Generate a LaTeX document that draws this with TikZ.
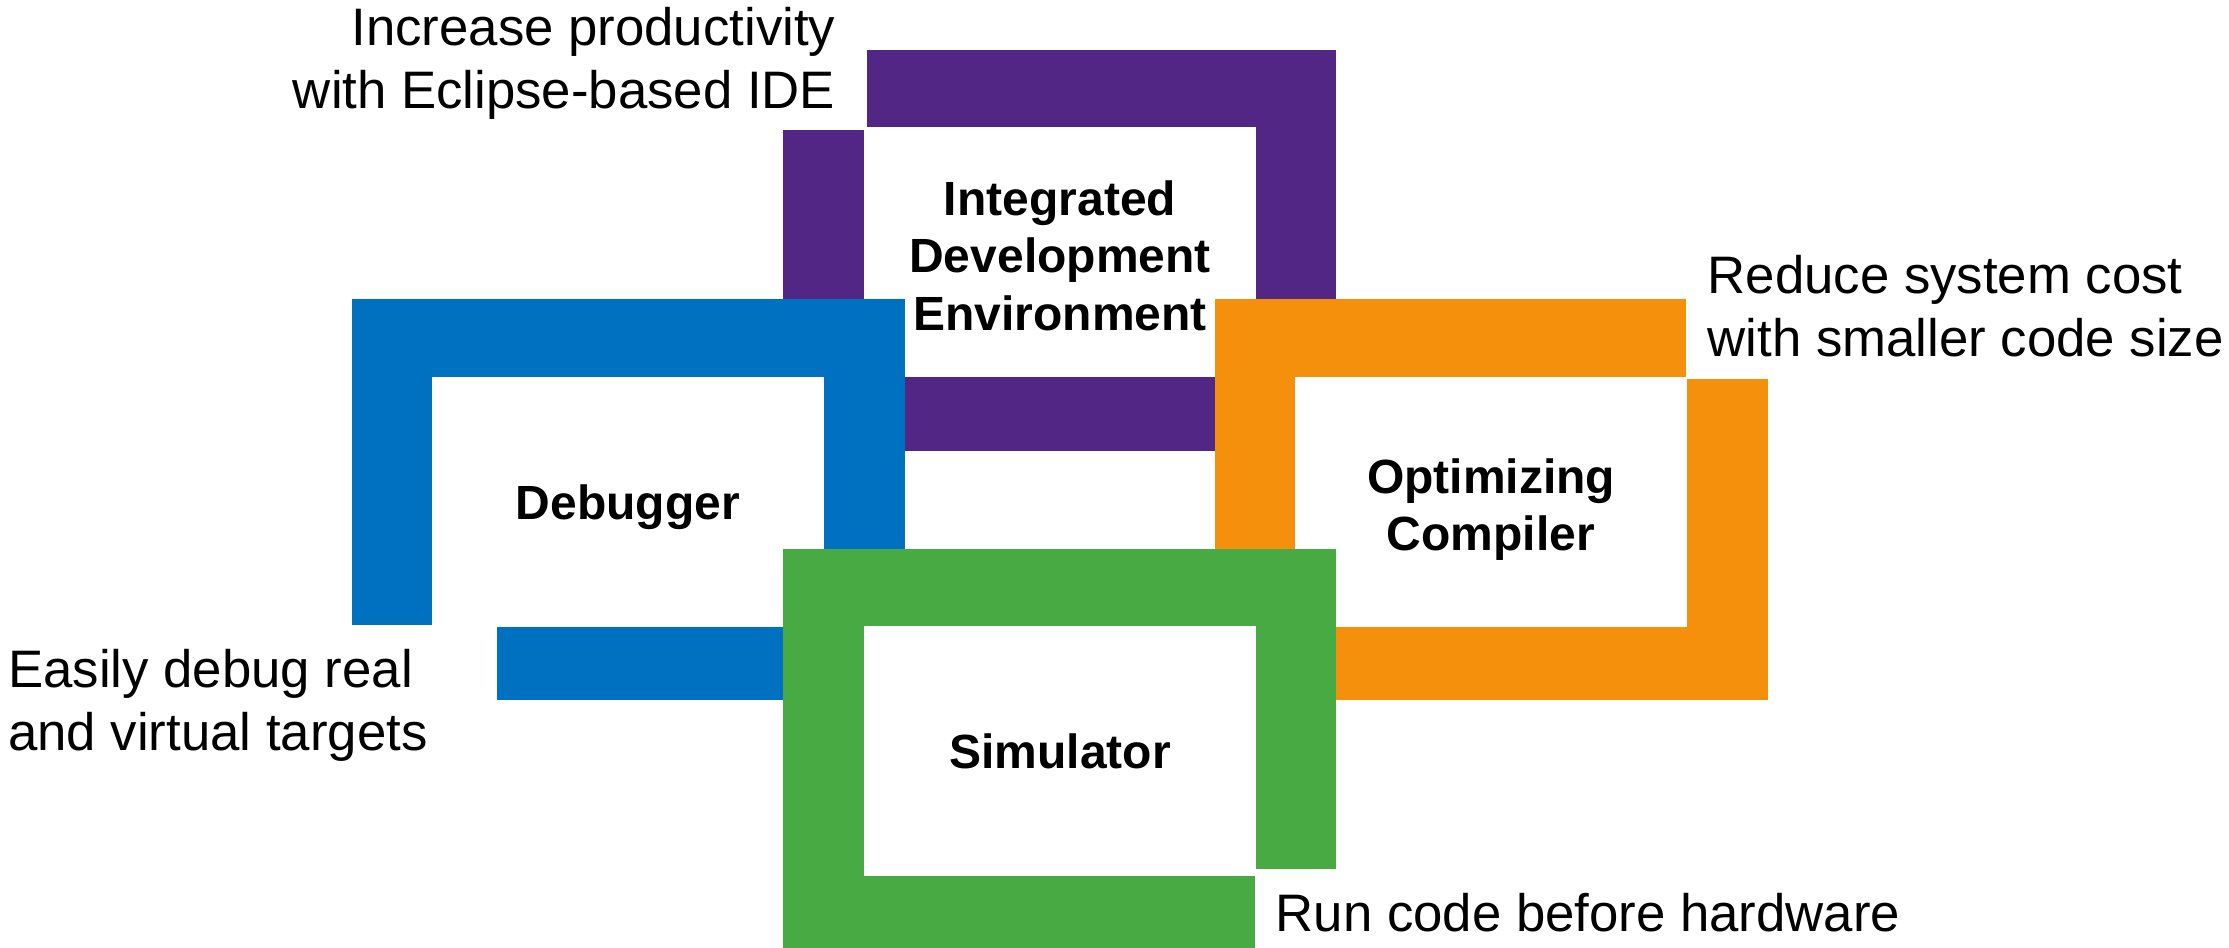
\documentclass[tikz,border=0pt]{standalone}
\usepackage{fontspec}
\setmainfont{Liberation Sans}
\definecolor{idepurple}{RGB}{81,38,132}
\definecolor{dbgblue}{RGB}{0,112,192}
\definecolor{cmporange}{RGB}{244,144,12}
\definecolor{simgreen}{RGB}{71,170,67}
\begin{document}
\begin{tikzpicture}[x=0.01cm,y=-0.01cm,
  idebar/.style={fill=idepurple},
  dbgbar/.style={fill=dbgblue},
  cmpbar/.style={fill=cmporange},
  simbar/.style={fill=simgreen},
  title/.style={font=\bfseries\fontsize{13.65pt}{16.35pt}\selectfont,
                align=center, inner sep=0pt},
  note/.style={font=\fontsize{15pt}{17.85pt}\selectfont, inner sep=0pt}]
\useasboundingbox (0,0) rectangle (2229,948);

% Integrated Development Environment frame (back layer)
\fill[idebar] (867,50) rectangle (1336,127);
\fill[idebar] (783,130) rectangle (864,340);
\fill[idebar] (1256,50) rectangle (1336,340);
\fill[idebar] (860,377) rectangle (1250,451);

% Debugger frame
\fill[dbgbar] (352,299) rectangle (905,377);
\fill[dbgbar] (352,299) rectangle (432,625);
\fill[dbgbar] (824,299) rectangle (905,600);
\fill[dbgbar] (497,627) rectangle (800,700);

% Optimizing Compiler frame
\fill[cmpbar] (1215,299) rectangle (1686,377);
\fill[cmpbar] (1215,299) rectangle (1295,600);
\fill[cmpbar] (1687,379) rectangle (1768,700);
\fill[cmpbar] (1300,627) rectangle (1768,700);

% Simulator frame (front layer)
\fill[simbar] (783,549) rectangle (1336,626);
\fill[simbar] (783,549) rectangle (864,948);
\fill[simbar] (1256,549) rectangle (1336,869);
\fill[simbar] (783,876) rectangle (1255,948);

% Frame titles
\node[title, anchor=north] (ide) at (1060,180)
  {Integrated\\Development\\Environment};
\node[title, anchor=base] (dbg) at (628,519) {Debugger};
\node[title, anchor=north] (cmp) at (1491,458) {Optimizing\\Compiler};
\node[title, anchor=base] (sim) at (1060,768) {Simulator};

% Benefit notes
\node[note, align=right, anchor=north east] (idenote) at (836,7)
  {Increase productivity\\with Eclipse-based IDE};
\node[note, align=left, anchor=north west] (cmpnote) at (1707,255)
  {Reduce system cost\\with smaller code size};
\node[note, align=left, anchor=north west] (dbgnote) at (7.5,649)
  {Easily debug real\\and virtual targets};
\node[note, anchor=base west] (simnote) at (1275,931)
  {Run code before hardware};
\end{tikzpicture}
\end{document}
